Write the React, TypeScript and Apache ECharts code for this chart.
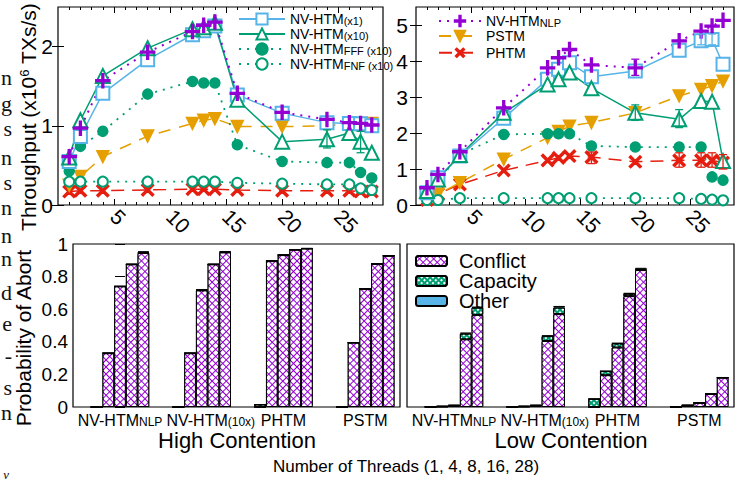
import React, { useEffect, useRef } from 'react';
import * as echarts from 'echarts';

// ---------- data ----------
const threads = [1, 2, 4, 8, 12, 13, 14, 16, 20, 24, 26, 27, 28];

// High contention throughput (top-left)
const hcX1 = [0.55, 0.865, 1.41, 1.835, 2.15, 2.2, 2.26, 1.39, 1.16, 1.04, 1.03, 1.025, 1.0];
const hcX10 = [0.6, 1.07, 1.63, 1.98, 2.22, 2.245, 2.3, 1.33, 0.8, 0.83, 0.91, 0.8, 0.66];
const hcFFF = [0.43, 0.74, 0.93, 1.4, 1.56, 1.54, 1.54, 0.76, 0.55, 0.535, 0.535, 0.41, 0.34];
const hcFNF = [0.295, 0.295, 0.295, 0.295, 0.295, 0.295, 0.295, 0.28, 0.27, 0.26, 0.26, 0.21, 0.19];
const hcNLP = [0.61, 0.97, 1.57, 1.93, 2.19, 2.27, 2.31, 1.41, 1.17, 1.08, 1.04, 1.03, 1.01];
const hcPSTM = [0.25, 0.36, 0.61, 0.87, 1.03, 1.07, 1.09, 0.99, 0.99, 1.0, 1.03, 1.03, 1.03];
const hcPHTM = [0.17, 0.18, 0.18, 0.19, 0.2, 0.2, 0.2, 0.19, 0.18, 0.18, 0.18, 0.17, 0.17];

// Low contention throughput (top-right)
const lcX1 = [0.34, 0.76, 1.36, 2.41, 3.49, 3.77, 3.95, 3.56, 3.72, 4.3, 4.56, 4.6, 3.91];
const lcX10 = [0.39, 0.71, 1.39, 2.56, 3.35, 3.49, 3.68, 3.24, 2.56, 2.38, 2.89, 2.87, 1.22];
const lcFFF = [0.3, 0.67, 1.4, 1.96, 1.98, 1.98, 1.98, 1.64, 1.61, 1.61, 1.61, 0.78, 0.69];
const lcFNF = [0.14, 0.14, 0.19, 0.19, 0.19, 0.19, 0.19, 0.19, 0.19, 0.19, 0.17, 0.15, 0.13];
const lcNLP = [0.48, 0.85, 1.48, 2.7, 3.81, 4.09, 4.32, 3.89, 3.81, 4.56, 4.83, 4.97, 5.13];
const lcPSTM = [0.2, 0.3, 0.62, 1.27, 1.87, 2.04, 2.19, 2.29, 2.56, 3.03, 3.21, 3.31, 3.44];
const lcPHTM = [0.14, 0.31, 0.57, 0.96, 1.24, 1.31, 1.36, 1.33, 1.2, 1.24, 1.24, 1.24, 1.18];

// error bars [threads, low, high]
const hcErrX10 = [[24, 0.72, 0.95], [27, 0.66, 0.93]];
const lcErrNLP = [[20, 3.6, 4.05]];
const lcErrX1 = [[26, 4.45, 4.75], [27, 4.45, 4.75]];
const lcErrX10 = [[20, 2.35, 2.78], [24, 2.15, 2.65]];
const lcErrPHTM = [[16, 1.15, 1.47], [24, 1.05, 1.45], [26, 1.05, 1.45], [27, 1.05, 1.45], [28, 1.0, 1.4]];

// abort probabilities: [system][thread 1,4,8,16,28]
const systems = ['NV-HTM_NLP', 'NV-HTM_(10x)', 'PHTM', 'PSTM'];
const barThreads = [1, 4, 8, 16, 28];
const barNames = ['Conflict', 'Capacity', 'Other'];

const hcConflict = [
  [0, 0.33, 0.74, 0.875, 0.945],
  [0, 0.33, 0.715, 0.875, 0.948],
  [0, 0.895, 0.932, 0.965, 0.972],
  [0, 0.395, 0.725, 0.878, 0.928],
];
const hcCapacity = [
  [0, 0, 0, 0, 0.004],
  [0, 0, 0.003, 0, 0.003],
  [0.015, 0, 0, 0, 0],
  [0, 0, 0, 0, 0],
];
const hcOther = [
  [0, 0, 0, 0.002, 0.006],
  [0, 0, 0.003, 0.002, 0.006],
  [0, 0.002, 0.002, 0.002, 0.002],
  [0, 0, 0, 0, 0],
];
const lcConflict = [
  [0.001, 0.003, 0.008, 0.415, 0.565],
  [0.001, 0.003, 0.008, 0.405, 0.57],
  [0, 0.195, 0.365, 0.68, 0.84],
  [0, 0.01, 0.025, 0.08, 0.18],
];
const lcCapacity = [
  [0, 0.001, 0.002, 0.035, 0.045],
  [0, 0.001, 0.002, 0.03, 0.04],
  [0.05, 0.025, 0.025, 0.015, 0.004],
  [0, 0, 0, 0, 0],
];
const lcOther = [
  [0.001, 0.002, 0.003, 0.006, 0.004],
  [0.001, 0.002, 0.003, 0.004, 0.01],
  [0, 0, 0.002, 0.004, 0.01],
  [0, 0.002, 0.002, 0.002, 0.002],
];

const xMajor = [5, 10, 15, 20, 25];
const xMinor = [1, 2, 3, 4, 6, 7, 8, 9, 11, 12, 13, 14, 16, 17, 18, 19, 21, 22, 23, 24, 26, 27, 28];
const hcYTicks = [0, 1, 2];
const lcYTicks = [0, 1, 2, 3, 4, 5];

// margin fragments of surrounding paper text
const marginLetters: [string, number][] = [
  ['n', 77], ['g', 103], ['s', 128], ['n', 157], ['s', 182], ['n', 207], ['n', 235],
  ['n', 258], ['d', 292], ['e', 323], ['-', 355], ['s', 387], ['n', 412],
];

// ---------- style ----------
const FONT = '"Liberation Sans", Arial, Helvetica, sans-serif';
const PURPLE = '#9400D3';
const GREEN = '#009E73';
const BLUE = '#56B4E9';
const ORANGE = '#E69F00';
const RED = '#E51E10';
const PLUS = 'path://M4.35,0H5.65V4.35H10V5.65H5.65V10H4.35V5.65H0V4.35H4.35Z';

const legendLabel: Record<string, string> = {
  x1: '{m|NV-HTM}{s|(x1)}',
  x10: '{m|NV-HTM}{s|(x10)}',
  FFF: '{m|NV-HTM}{s|FFF (x10)}',
  FNF: '{m|NV-HTM}{s|FNF (x10)}',
  NLP: '{m|NV-HTM}{s|NLP}',
  PSTM: '{m|PSTM}',
  PHTM: '{m|PHTM}',
};

const lineCfg: Record<string, any> = {
  x1: { color: BLUE, symbol: 'emptyRect', size: 13, type: 'solid', width: 1.5 },
  x10: { color: GREEN, symbol: 'emptyTriangle', size: 14, type: 'solid', width: 1.5 },
  FFF: { color: GREEN, symbol: 'circle', size: 10, type: [2, 6], width: 1.8 },
  FNF: { color: GREEN, symbol: 'emptyCircle', size: 10, type: [2, 6], width: 1.8 },
  NLP: { color: PURPLE, symbol: PLUS, size: 14, type: [2, 6], width: 2 },
  PSTM: { color: ORANGE, symbol: 'triangle', size: 12, rotate: 180, type: [12, 9], width: 1.5 },
  PHTM: { color: RED, symbol: PLUS, size: 15, rotate: 45, type: [13, 8], width: 1.5 },
};

function lineSeries(name: string, values: number[], g: number) {
  const c = lineCfg[name];
  return {
    type: 'line',
    name,
    xAxisIndex: g * 4,
    yAxisIndex: g * 2,
    data: threads.map((t, i) => [t, values[i]]),
    symbol: c.symbol,
    symbolSize: c.size,
    symbolRotate: c.rotate || 0,
    showAllSymbol: true,
    lineStyle: { color: c.color, width: c.width, type: c.type },
    itemStyle: { color: c.color, borderColor: c.color, borderWidth: 1.5 },
    z: 3,
  };
}

function errSeries(data: number[][], g: number, color: string) {
  return {
    type: 'custom',
    name: 'err',
    xAxisIndex: g * 4,
    yAxisIndex: g * 2,
    data,
    encode: { x: 0, y: [1, 2] },
    z: 4,
    renderItem: (_p: any, api: any) => {
      const x = api.value(0);
      const a = api.coord([x, api.value(1)]);
      const b = api.coord([x, api.value(2)]);
      const st = { stroke: color, lineWidth: 1.3 };
      return {
        type: 'group',
        children: [
          { type: 'line', shape: { x1: a[0], y1: a[1], x2: b[0], y2: b[1] }, style: st },
          { type: 'line', shape: { x1: a[0] - 4, y1: a[1], x2: a[0] + 4, y2: a[1] }, style: st },
          { type: 'line', shape: { x1: b[0] - 4, y1: b[1], x2: b[0] + 4, y2: b[1] }, style: st },
        ],
      };
    },
  };
}

const barStyles = [
  {
    color: PURPLE,
    borderColor: '#000',
    borderWidth: 1,
    decal: { symbol: 'rect', color: '#fff', dashArrayX: [3.6, 0.9], dashArrayY: [3.6, 0.9], rotation: Math.PI / 4, symbolSize: 1 },
  },
  {
    color: GREEN,
    borderColor: '#000',
    borderWidth: 1,
    decal: { symbol: 'rect', color: '#fff', dashArrayX: [1.4, 1.4], dashArrayY: [1.4, 1.4], rotation: Math.PI / 4, symbolSize: 1 },
  },
  { color: BLUE, borderColor: '#000', borderWidth: 1 },
];

// bottom grids: xAxis 8,9 carry bars + labels of systems 0,2 ; xAxis 10,11 carry labels of systems 1,3
function barSeries(sets: number[][][], g: number) {
  const out: any[] = [];
  barThreads.forEach((_t, ti) => {
    sets.forEach((set, k) => {
      out.push({
        type: 'bar',
        name: barNames[k],
        xAxisIndex: 8 + g,
        yAxisIndex: g === 0 ? 4 : 6,
        stack: 'g' + g + 't' + ti,
        barWidth: 11.7,
        barGap: '0%',
        // [value, category index] so that the value dimension is the stacked one
        data: systems.map((_s, c) => [set[c][ti], c]),
        encode: { x: 1, y: 0 },
        itemStyle: barStyles[k],
      });
    });
  });
  return out;
}

function topXAxes(g: number) {
  const base = { gridIndex: g, type: 'value', min: 0, max: 29, axisLine: { show: false }, splitLine: { show: false } };
  return [
    {
      ...base,
      position: 'bottom',
      axisTick: { show: true, inside: true, length: 6, customValues: xMajor, lineStyle: { color: '#000' } },
      axisLabel: { show: true, customValues: xMajor, rotate: -45, fontSize: 21, color: '#000', margin: 8, fontFamily: FONT },
    },
    { ...base, position: 'bottom', axisTick: { show: true, inside: true, length: 3, customValues: xMinor, lineStyle: { color: '#000' } }, axisLabel: { show: false } },
    { ...base, position: 'top', axisTick: { show: true, inside: true, length: 6, customValues: xMajor, lineStyle: { color: '#000' } }, axisLabel: { show: false } },
    { ...base, position: 'top', axisTick: { show: true, inside: true, length: 3, customValues: xMinor, lineStyle: { color: '#000' } }, axisLabel: { show: false } },
  ];
}

function topYAxes(g: number, max: number, ticks: number[], margin: number) {
  const base = { gridIndex: g, type: 'value', min: 0, max, axisLine: { show: false }, splitLine: { show: false } };
  return [
    {
      ...base,
      position: 'left',
      axisTick: { show: true, inside: true, length: 6, customValues: ticks, lineStyle: { color: '#000' } },
      axisLabel: { show: true, customValues: ticks, fontSize: 21, color: '#000', margin, fontFamily: FONT },
    },
    {
      ...base,
      position: 'right',
      axisTick: { show: true, inside: true, length: 6, customValues: ticks, lineStyle: { color: '#000' } },
      axisLabel: { show: false },
    },
  ];
}

const catRich = {
  m: { fontSize: 16, lineHeight: 16, fontFamily: FONT, color: '#000' },
  s: { fontSize: 12, lineHeight: 3, verticalAlign: 'bottom', fontFamily: FONT, color: '#000' },
  p: { width: 18, fontSize: 12 },
};

function catAxis(g: number, values: number[]) {
  return {
    gridIndex: g,
    type: 'value',
    min: -0.575,
    max: 3.425,
    position: 'bottom',
    axisLine: { show: false },
    axisTick: { show: false },
    splitLine: { show: false },
    axisLabel: {
      show: true,
      customValues: values,
      showMinLabel: true,
      showMaxLabel: true,
      hideOverlap: false,
      margin: 5,
      formatter: (v: number) => {
        const idx = Math.round(v);
        const s = systems[idx] || '';
        const [m, sub] = s.split('_');
        const pad = idx === 1 ? '{p| }' : '';
        return sub ? `${pad}{m|${m}}{s|${sub}}` : `{m|${m}}`;
      },
      rich: catRich,
    },
  };
}

const gridBox = { show: true, borderColor: '#000', borderWidth: 1.2, backgroundColor: 'transparent' };

export default function App() {
  const ref = useRef<HTMLDivElement>(null);
  useEffect(() => {
    if (!ref.current) return;
    const chart = echarts.init(ref.current, undefined, { renderer: 'svg' });
    const richSub = {
      m: { fontSize: 14, lineHeight: 14, fontFamily: FONT, color: '#000' },
      s: { fontSize: 11, lineHeight: 3, verticalAlign: 'bottom', fontFamily: FONT, color: '#000' },
    };
    const hcVals: Record<string, number[]> = { x1: hcX1, x10: hcX10, FFF: hcFFF, FNF: hcFNF, NLP: hcNLP, PSTM: hcPSTM, PHTM: hcPHTM };
    const lcVals: Record<string, number[]> = { x1: lcX1, x10: lcX10, FFF: lcFFF, FNF: lcFNF, NLP: lcNLP, PSTM: lcPSTM, PHTM: lcPHTM };
    const order = ['PHTM', 'PSTM', 'FNF', 'FFF', 'x1', 'x10', 'NLP'];

    const option: any = {
      animation: false,
      backgroundColor: '#fff',
      textStyle: { fontFamily: FONT, color: '#000' },
      grid: [
        { left: 58, top: 7, width: 325, height: 198, ...gridBox },
        { left: 416, top: 7, width: 318, height: 198, ...gridBox },
        { left: 73, top: 244, width: 327, height: 163, ...gridBox },
        { left: 407, top: 244, width: 327, height: 163, ...gridBox },
      ],
      xAxis: [
        ...topXAxes(0),
        ...topXAxes(1),
        catAxis(2, [0, 2]),
        catAxis(3, [0, 2]),
        catAxis(2, [1, 3]),
        catAxis(3, [1, 3]),
      ],
      yAxis: [
        ...topYAxes(0, 2.5, hcYTicks, 5),
        ...topYAxes(1, 5.5, lcYTicks, 8),
        {
          gridIndex: 2, type: 'value', min: 0, max: 1, interval: 0.2, position: 'left',
          axisLine: { show: false }, splitLine: { show: false },
          axisTick: { show: true, inside: true, length: 5, lineStyle: { color: '#000' } },
          axisLabel: { fontSize: 19, color: '#000', margin: 5, fontFamily: FONT },
        },
        {
          gridIndex: 2, type: 'value', min: 0, max: 1, interval: 0.2, position: 'right',
          axisLine: { show: false }, splitLine: { show: false },
          axisTick: { show: true, inside: true, length: 5, lineStyle: { color: '#000' } },
          axisLabel: { show: false },
        },
        {
          gridIndex: 3, type: 'value', min: 0, max: 1, interval: 0.2, position: 'left',
          axisLine: { show: false }, splitLine: { show: false }, axisTick: { show: false }, axisLabel: { show: false },
        },
      ],
      legend: [
        {
          data: ['x1', 'x10', 'FFF', 'FNF'],
          orient: 'vertical', left: 233, top: 7, itemWidth: 46, itemHeight: 14, itemGap: 1,
          formatter: (n: string) => legendLabel[n], textStyle: { rich: richSub }, selectedMode: false,
        },
        {
          data: ['NLP', 'PSTM', 'PHTM'],
          orient: 'vertical', left: 433, top: 9, itemWidth: 42, itemHeight: 13, itemGap: 1,
          formatter: (n: string) => legendLabel[n], textStyle: { rich: richSub }, selectedMode: false,
        },
        {
          data: barNames,
          orient: 'vertical', left: 410, top: 246, itemWidth: 31, itemHeight: 10, itemGap: 0,
          textStyle: { fontSize: 20, lineHeight: 18.5, color: '#000', fontFamily: FONT, padding: [0, 0, 0, 7] },
          selectedMode: false,
        },
      ],
      series: [
        ...order.map((n) => lineSeries(n, hcVals[n], 0)),
        ...order.map((n) => lineSeries(n, lcVals[n], 1)),
        errSeries(hcErrX10, 0, GREEN),
        errSeries(lcErrNLP, 1, PURPLE),
        errSeries(lcErrX1, 1, BLUE),
        errSeries(lcErrX10, 1, GREEN),
        errSeries(lcErrPHTM, 1, RED),
        ...barSeries([hcConflict, hcCapacity, hcOther], 0),
        ...barSeries([lcConflict, lcCapacity, lcOther], 1),
      ],
      graphic: [
        {
          type: 'text', x: 28, y: 117, rotation: Math.PI / 2,
          style: {
            text: '{a|Throughput (x10}{b|6}{a| TXs/s)}', align: 'center', verticalAlign: 'middle',
            rich: {
              a: { fontSize: 21, lineHeight: 21, fontFamily: FONT, fill: '#000' },
              b: { fontSize: 13, lineHeight: 4, verticalAlign: 'top', fontFamily: FONT, fill: '#000' },
            },
          },
        },
        {
          type: 'text', x: 23, y: 338, rotation: Math.PI / 2,
          style: { text: 'Probability of Abort', align: 'center', verticalAlign: 'middle', fontSize: 21, fontFamily: FONT, fill: '#000' },
        },
        { type: 'text', x: 237, y: 440, style: { text: 'High Contention', align: 'center', verticalAlign: 'middle', fontSize: 22, fontFamily: FONT, fill: '#000' } },
        { type: 'text', x: 571, y: 440, style: { text: 'Low Contention', align: 'center', verticalAlign: 'middle', fontSize: 22, fontFamily: FONT, fill: '#000' } },
        { type: 'text', x: 406, y: 466, style: { text: 'Number of Threads (1, 4, 8, 16, 28)', align: 'center', verticalAlign: 'middle', fontSize: 17, fontFamily: FONT, fill: '#000' } },
        ...marginLetters.map(([ch, y]) => ({
          type: 'text', x: 12, y, style: { text: ch, align: 'right', verticalAlign: 'middle', fontSize: 22, fontFamily: '"Liberation Serif", "DejaVu Serif", serif', fill: '#111' },
        })),
        { type: 'text', x: 9, y: 474, style: { text: 'ν', align: 'right', verticalAlign: 'middle', fontSize: 13, fontStyle: 'italic', fontFamily: '"Liberation Serif", serif', fill: '#111' } },
      ],
    };
    chart.setOption(option);
    return () => chart.dispose();
  }, []);
  return <div ref={ref} style={{ position: 'absolute', left: 0, top: 0, width: 755, height: 483, background: '#fff' }} />;
}
